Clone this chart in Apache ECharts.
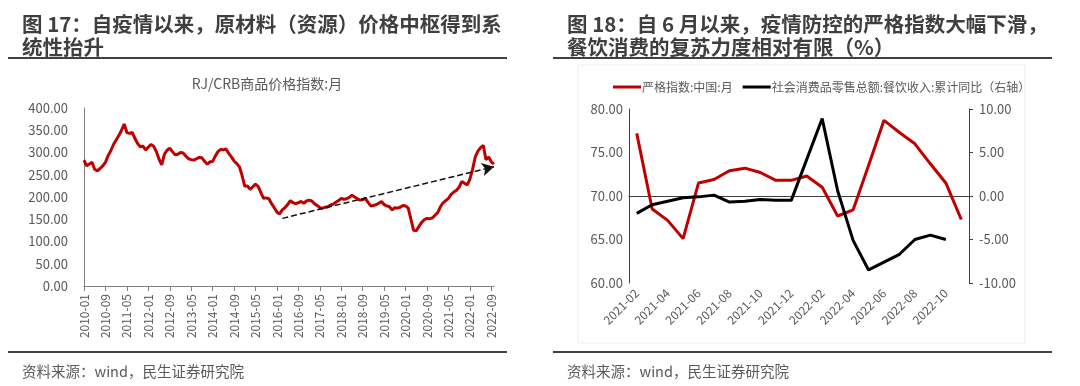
<!DOCTYPE html>
<html><head><meta charset="utf-8">
<script src="https://cdn.jsdelivr.net/npm/echarts@6/dist/echarts.min.js"></script>
<style>html,body{margin:0;padding:0;background:#fff}#c{width:1080px;height:386px}</style>
</head><body><div id="c"></div>
<script>
// ---- Left chart: RJ/CRB commodity price index, monthly 2010-01 .. 2022-10
const crbValues = [
 283,270,274,278,262,259,264,270,278,293,304,318,
 328,338,350,364,345,343,345,332,320,313,314,306,
 312,318,314,302,285,272,296,305,310,302,295,296,
 300,299,292,286,284,283,286,289,288,280,274,279,
 280,292,302,307,306,308,298,290,281,275,268,248,
 224,225,217,223,229,224,210,197,198,196,185,176,
 166,162,171,176,183,192,187,185,187,190,186,191,
 193,191,185,181,176,175,177,178,182,184,188,192,
 197,195,196,199,204,200,196,193,194,197,188,180,
 181,183,186,190,183,180,178,171,176,175,177,181,
 180,175,150,125,124,134,143,149,152,151,153,159,
 165,178,187,192,197,206,211,215,222,235,231,227,
 240,262,290,303,311,316,284,290,279,274
];
const crbStartYear = 2010;
const crbMonths = crbValues.map((_, i) => {
  const y = crbStartYear + Math.floor(i / 12);
  const m = (i % 12) + 1;
  return y + '-' + (m < 10 ? '0' + m : m);
});
const crbTrendStart = ['2016-03', 152];
const crbTrendEnd = ['2022-10', 268];

// ---- Right chart
const rightMonths = ['2021-02','2021-03','2021-04','2021-05','2021-06','2021-07','2021-08','2021-09','2021-10','2021-11','2021-12',
 '2022-01','2022-02','2022-03','2022-04','2022-05','2022-06','2022-07','2022-08','2022-09','2022-10','2022-11'];
const stringency = [77.2,68.5,67.2,65.1,71.5,71.9,72.9,73.2,72.7,71.8,71.8,72.3,71.0,67.7,68.4,73.5,78.7,77.3,76.0,73.7,71.5,67.3];
const cateringYoY = [-2.0,-1.0,-0.6,-0.2,-0.1,0.1,-0.7,-0.6,-0.4,-0.5,-0.5,null,8.9,0.6,-5.1,-8.5,-7.6,-6.7,-5.0,-4.5,-5.0,null];

const leftYTicks = {min: 0, max: 400, interval: 50};
const rightYLeft = {min: 60, max: 80, interval: 5};
const rightYRight = {min: -10, max: 10, interval: 5};

const FONT = '"Noto Sans CJK SC", "Open Sans", sans-serif';
const gray = '#595959';
const chart = echarts.init(document.getElementById('c'), null, {renderer: 'canvas'});

chart.setOption({
  animation: false,
  backgroundColor: '#fff',
  textStyle: {fontFamily: FONT},
  title: [
    {text: '图 17：自疫情以来，原材料（资源）价格中枢得到系\n统性抬升', left: 17, top: 8,
     textStyle: {fontSize: 20.5, fontWeight: 'bold', color: '#3f3f3f', lineHeight: 23, fontFamily: FONT}},
    {text: '图 18：自 6 月以来，疫情防控的严格指数大幅下滑，\n餐饮消费的复苏力度相对有限（%）', left: 562, top: 8,
     textStyle: {fontSize: 20.5, fontWeight: 'bold', color: '#3f3f3f', lineHeight: 23, fontFamily: FONT}},
    {text: 'RJ/CRB商品价格指数:月', left: 262, top: 72, textAlign: 'center',
     textStyle: {fontSize: 14, fontWeight: 'normal', color: gray, fontFamily: FONT}},
    {text: '资料来源：wind，民生证券研究院', left: 17, top: 359,
     textStyle: {fontSize: 14.5, fontWeight: 'normal', color: gray, fontFamily: FONT}},
    {text: '资料来源：wind，民生证券研究院', left: 562, top: 359,
     textStyle: {fontSize: 14.5, fontWeight: 'normal', color: gray, fontFamily: FONT}}
  ],
  graphic: [
    {type: 'rect', shape: {x: 578, y: 65, width: 447, height: 278}, style: {fill: 'none', stroke: '#efefef', lineWidth: 1}, z: -1},
    {type: 'line', shape: {x1: 8, y1: 58, x2: 507, y2: 58}, style: {stroke: '#404040', lineWidth: 2}},
    {type: 'line', shape: {x1: 553, y1: 58, x2: 1052, y2: 58}, style: {stroke: '#404040', lineWidth: 2}},
    {type: 'line', shape: {x1: 8, y1: 352, x2: 507, y2: 352}, style: {stroke: '#404040', lineWidth: 2}},
    {type: 'line', shape: {x1: 553, y1: 352, x2: 1052, y2: 352}, style: {stroke: '#404040', lineWidth: 2}}
  ],
  legend: {
    data: ['严格指数:中国:月', '社会消费品零售总额:餐饮收入:累计同比（右轴）'],
    left: 608, top: 76, itemWidth: 28, itemHeight: 3, itemGap: 10,
    icon: 'rect',
    textStyle: {fontSize: 12, color: gray, fontFamily: FONT, padding: [0, 0, 0, -4]}
  },
  grid: [
    {left: 84, top: 108, width: 410, height: 178},
    {left: 629, top: 109, width: 340, height: 174}
  ],
  xAxis: [
    {type: 'category', gridIndex: 0, data: crbMonths, boundaryGap: false,
     axisLine: {lineStyle: {color: '#7f7f7f', width: 1}},
     axisTick: {interval: 7, length: 5, lineStyle: {color: '#7f7f7f'}},
     axisLabel: {interval: 7, rotate: 90, fontSize: 12, color: gray, margin: 8, fontFamily: FONT}},
    {type: 'category', gridIndex: 1, data: rightMonths, boundaryGap: true,
     axisLine: {lineStyle: {color: '#404040', width: 1}},
     axisTick: {interval: 1, length: 5, lineStyle: {color: '#404040'}},
     axisLabel: {interval: 1, rotate: 45, fontSize: 12, color: gray, margin: 8, fontFamily: FONT}}
  ],
  yAxis: [
    {type: 'value', gridIndex: 0, min: leftYTicks.min, max: leftYTicks.max, interval: leftYTicks.interval,
     splitLine: {show: false},
     axisLine: {show: true, lineStyle: {color: '#7f7f7f'}}, axisTick: {show: false},
     axisLabel: {formatter: v => v.toFixed(2), fontSize: 13, color: gray, margin: 16, fontFamily: FONT}},
    {type: 'value', gridIndex: 1, min: rightYLeft.min, max: rightYLeft.max, interval: rightYLeft.interval,
     splitLine: {show: false},
     axisLine: {show: true, lineStyle: {color: '#404040'}}, axisTick: {show: false},
     axisLabel: {formatter: v => v.toFixed(2), fontSize: 13, color: gray, margin: 6, fontFamily: FONT}},
    {type: 'value', gridIndex: 1, position: 'right', min: rightYRight.min, max: rightYRight.max, interval: rightYRight.interval,
     splitLine: {show: false},
     axisLine: {show: true, lineStyle: {color: '#404040'}}, axisTick: {show: true, length: 4, lineStyle: {color: '#404040'}},
     axisLabel: {formatter: v => v.toFixed(2), fontSize: 13, color: gray, margin: 10, fontFamily: FONT}}
  ],
  series: [
    {name: 'RJ/CRB', type: 'line', xAxisIndex: 0, yAxisIndex: 0, data: crbValues,
     symbol: 'none', lineStyle: {color: '#c00000', width: 3}, itemStyle: {color: '#c00000'},
     markLine: {silent: true, symbol: ['none', 'arrow'], symbolSize: [10, 12],
       label: {show: false},
       lineStyle: {type: 'dashed', color: '#111', width: 1.5},
       data: [[{coord: crbTrendStart}, {coord: crbTrendEnd}]]}},
    {name: '严格指数:中国:月', type: 'line', xAxisIndex: 1, yAxisIndex: 1, data: stringency,
     symbol: 'none', lineStyle: {color: '#c00000', width: 3}, itemStyle: {color: '#c00000'}},
    {name: '社会消费品零售总额:餐饮收入:累计同比（右轴）', type: 'line', xAxisIndex: 1, yAxisIndex: 2, data: cateringYoY,
     connectNulls: true, symbol: 'none', lineStyle: {color: '#000', width: 3}, itemStyle: {color: '#000'}}
  ]
});
</script></body></html>
